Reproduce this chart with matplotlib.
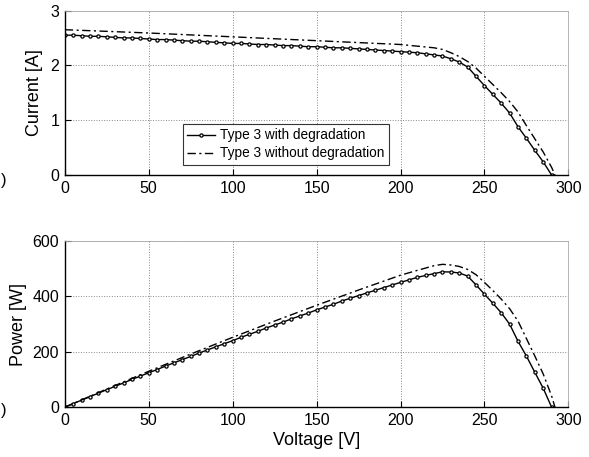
import numpy as np
import matplotlib
matplotlib.use("Agg")
import matplotlib.pyplot as plt

plt.rcParams['font.family'] = ['Liberation Sans', 'DejaVu Sans']

# Type 3 with degradation, read every 5 V
v_deg = np.arange(0, 295, 5)
i_deg = [2.55, 2.55, 2.54, 2.53, 2.53, 2.52, 2.51, 2.50, 2.50, 2.49,
         2.48, 2.47, 2.47, 2.46, 2.45, 2.44, 2.44, 2.43, 2.42, 2.41,
         2.40, 2.40, 2.39, 2.38, 2.38, 2.37, 2.36, 2.36, 2.35, 2.34,
         2.34, 2.33, 2.32, 2.32, 2.31, 2.30, 2.29, 2.28, 2.27, 2.26,
         2.25, 2.24, 2.23, 2.21, 2.19, 2.17, 2.12, 2.06, 1.97, 1.80,
         1.63, 1.47, 1.31, 1.13, 0.88, 0.67, 0.45, 0.24, 0.0]

# Type 3 without degradation
v_new = [0, 25, 50, 75, 100, 125, 150, 175, 200, 210, 220, 225, 230, 235,
         240, 245, 250, 255, 260, 265, 270, 275, 280, 285, 290, 292]
i_new = [2.65, 2.62, 2.59, 2.555, 2.52, 2.485, 2.45, 2.415, 2.38, 2.35,
         2.32, 2.29, 2.23, 2.16, 2.07, 1.95, 1.80, 1.65, 1.50, 1.34,
         1.15, 0.90, 0.66, 0.42, 0.14, 0.0]

v_deg = np.array(v_deg, dtype=float)
i_deg = np.array(i_deg)
v_new = np.array(v_new, dtype=float)
i_new = np.array(i_new)
# power = voltage * current
p_deg = v_deg * i_deg
p_new = v_new * i_new

fig = plt.figure(figsize=(5.89, 4.57), dpi=100)
ax1 = fig.add_axes([0.110, 0.617, 0.855, 0.360])
ax2 = fig.add_axes([0.110, 0.109, 0.855, 0.364])


def style(ax):
    ax.grid(True, color='#888888', linestyle=':', linewidth=0.7)
    ax.set_axisbelow(True)
    for s in ['top', 'right']:
        ax.spines[s].set_color('#aaaaaa')
        ax.spines[s].set_linewidth(0.6)
    for s in ['left', 'bottom']:
        ax.spines[s].set_color('black')
        ax.spines[s].set_linewidth(1.0)
    ax.tick_params(direction='in', length=4, width=0.8, labelsize=11.5,
                   top=False, right=False, pad=4)
    ax.set_xlim(0, 300)
    ax.set_xticks(range(0, 301, 50))


mk = dict(marker='o', markersize=2.3, markerfacecolor='white',
          markeredgewidth=0.9)
dd = (0, (6, 2.5, 1.5, 2.5))

ax1.plot(v_deg, i_deg, '-', color='black', linewidth=1.0,
         label='Type 3 with degradation', **mk)
ax1.plot(v_new, i_new, linestyle=dd, color='black', linewidth=1.0,
         label='Type 3 without degradation')
style(ax1)
ax1.set_ylim(0, 3)
ax1.set_yticks([0, 1, 2, 3])
ax1.set_ylabel('Current [A]', fontsize=13, labelpad=5)
leg = ax1.legend(loc='lower left', bbox_to_anchor=(0.234, 0.06),
                 fontsize=9.8, frameon=True, fancybox=False, borderpad=0.35,
                 handlelength=2.0, handletextpad=0.4, labelspacing=0.3,
                 borderaxespad=0)
leg.get_frame().set_edgecolor('black')
leg.get_frame().set_linewidth(0.8)

ax2.plot(v_deg, p_deg, '-', color='black', linewidth=1.0, **mk)
ax2.plot(v_new, p_new, linestyle=dd, color='black', linewidth=1.0)
style(ax2)
ax2.set_ylim(0, 600)
ax2.set_yticks([0, 200, 400, 600])
ax2.set_ylabel('Power [W]', fontsize=13, labelpad=4)
ax2.set_xlabel('Voltage [V]', fontsize=13, labelpad=3)

fig.text(1 / 589, 1 - 180 / 457, ')', ha='left', va='center', fontsize=12)
fig.text(1 / 589, 1 - 410 / 457, ')', ha='left', va='center', fontsize=12)

fig.savefig('out.png', dpi=100)
